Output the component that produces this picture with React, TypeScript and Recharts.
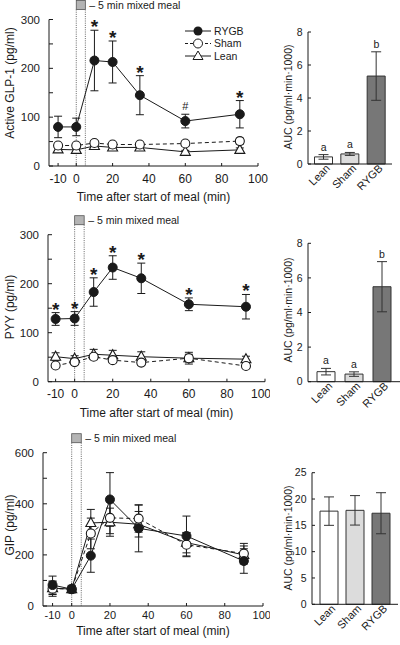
import React from "react";
import {
  ComposedChart,
  Line,
  Bar,
  Cell,
  XAxis,
  YAxis,
  ErrorBar,
  ReferenceArea,
  Legend,
} from "recharts";

const FONT = '"Liberation Sans", Arial, Helvetica, sans-serif';
const INK = "#1a1a1a";

// sampling times (min)
const times = [-10, 0, 10, 20, 35, 60, 90];
const timeTicks = [-10, 0, 20, 40, 60, 80, 100];

// active GLP-1 (pg/ml)
const glpRygb = [80, 80, 216, 213, 145, 92, 106];
const glpRygbErr = [22, 18, 62, 43, 40, 14, 28];
const glpSham = [42, 42, 47, 44, 44, 46, 51];
const glpShamErr = [4, 4, 5, 4, 4, 5, 6];
const glpLean = [34, 33, 41, 38, 38, 29, 33];
const glpLeanErr = [3, 3, 4, 4, 4, 3, 4];
const glpMarks = ["", "", "*", "*", "*", "#", "*"];
const glpTicks = [0, 50, 100, 150, 200, 250, 300];

// PYY (pg/ml)
const pyyRygb = [128, 129, 183, 233, 211, 158, 153];
const pyyRygbErr = [13, 14, 29, 24, 31, 13, 25];
const pyySham = [33, 40, 51, 44, 39, 48, 32];
const pyyShamErr = [4, 5, 6, 5, 5, 12, 4];
const pyyLean = [51, 47, 56, 54, 51, 48, 46];
const pyyLeanErr = [8, 6, 10, 10, 10, 8, 6];
const pyyMarks = ["*", "*", "*", "*", "*", "*", "*"];
const pyyTicks = [0, 50, 100, 150, 200, 250, 300];

// GIP (pg/ml)
const gipRygb = [82, 66, 197, 417, 304, 274, 176];
const gipRygbErr = [35, 15, 65, 105, 92, 78, 48];
const gipSham = [68, 66, 284, 345, 342, 240, 205];
const gipShamErr = [30, 12, 60, 62, 53, 47, 40];
const gipLean = [70, 66, 325, 328, 320, 248, 200];
const gipLeanErr = [25, 10, 53, 55, 50, 40, 35];
const gipMarks = ["", "", "", "", "", "", ""];
const gipTicks = [0, 100, 200, 300, 400, 500, 600];

// AUC bars (pg/ml·min·1000)
const groups = ["Lean", "Sham", "RYGB"];
const groupFills = ["#ffffff", "#dcdcdc", "#777777"];
const glpAuc = [0.43, 0.61, 5.33];
const glpAucErr = [0.14, 0.09, 1.47];
const glpAucMarks = ["a", "a", "b"];
const pyyAuc = [0.58, 0.44, 5.49];
const pyyAucErr = [0.19, 0.13, 1.45];
const pyyAucMarks = ["a", "a", "b"];
const gipAuc = [17.7, 17.85, 17.3];
const gipAucErr = [2.7, 2.8, 3.9];
const gipAucMarks = ["", "", ""];
const aucTicks8 = [0, 2, 4, 6, 8];
const aucTicks25 = [0, 5, 10, 15, 20, 25];

const legendItems = ["RYGB", "Sham", "Lean"];

function timeRows(
  rygb: number[], rygbErr: number[], sham: number[], shamErr: number[],
  lean: number[], leanErr: number[], marks: string[]
) {
  return times.map((t, i) => ({
    t,
    rygb: rygb[i], rygbErr: rygbErr[i],
    sham: sham[i], shamErr: shamErr[i],
    lean: lean[i], leanErr: leanErr[i],
    mark: marks[i],
    markY: marks[i] ? rygb[i] + rygbErr[i] : null,
  }));
}

function aucRows(v: number[], err: number[], marks: string[]) {
  return groups.map((g, i) => ({
    g, v: v[i], err: err[i], mark: marks[i],
    markY: marks[i] ? v[i] + err[i] : null,
  }));
}

const filledDot = (p: any) =>
  p.cx == null ? <g key={`f${p.index}`} /> :
  <circle key={`f${p.index}`} cx={p.cx} cy={p.cy} r={4.5} fill={INK} stroke={INK} />;

const openDot = (p: any) =>
  p.cx == null ? <g key={`o${p.index}`} /> :
  <circle key={`o${p.index}`} cx={p.cx} cy={p.cy} r={4.5} fill="#fff" stroke={INK} strokeWidth={1.1} />;

const triDot = (p: any) =>
  p.cx == null ? <g key={`t${p.index}`} /> :
  <path key={`t${p.index}`} d={`M${p.cx},${p.cy - 5.5}L${p.cx + 5},${p.cy + 3.5}L${p.cx - 5},${p.cy + 3.5}Z`}
    fill="#fff" stroke={INK} strokeWidth={1.1} />;

const markDot = (p: any) => {
  const m = p.payload && p.payload.mark;
  if (p.cx == null || p.cy == null || !m) return <g key={`m${p.index}`} />;
  if (m === "*")
    return <text key={`m${p.index}`} x={p.cx} y={p.cy + 3} textAnchor="middle" fontSize={19} fontWeight="bold" fill={INK}>*</text>;
  return <text key={`m${p.index}`} x={p.cx} y={p.cy - 4} textAnchor="middle" fontSize={11} fill={INK}>{m}</text>;
};

const letterDot = (p: any) => {
  const m = p.payload && p.payload.mark;
  if (p.cx == null || p.cy == null || !m) return <g key={`l${p.index}`} />;
  return <text key={`l${p.index}`} x={p.cx} y={p.cy - 4} textAnchor="middle" fontSize={10.5} fill={INK}>{m}</text>;
};

const mealShape = (p: any) => {
  const { x, y, width, height } = p;
  return (
    <g>
      <line x1={x} y1={y - 10} x2={x} y2={y + height} stroke="#666" strokeDasharray="1 1.2" />
      <line x1={x + width} y1={y - 10} x2={x + width} y2={y + height} stroke="#666" strokeDasharray="1 1.2" />
      <rect x={x} y={y - 19} width={width} height={9} fill="#b4b4b4" stroke="#555" strokeWidth={0.8} />
      <text x={x + width + 4} y={y - 11} fontSize={10.5} fill={INK}>– 5 min mixed meal</text>
    </g>
  );
};

const renderLegend = () => (
  <svg width={70} height={40}>
    {legendItems.map((name, i) => {
      const cy = 6 + i * 12.5;
      const cx = 15;
      return (
        <g key={name}>
          <line x1={2} y1={cy} x2={28} y2={cy} stroke={INK} strokeDasharray={name === "Sham" ? "3 2" : undefined} />
          {name === "RYGB" && <circle cx={cx} cy={cy} r={4.5} fill={INK} />}
          {name === "Sham" && <circle cx={cx} cy={cy} r={4.5} fill="#fff" stroke={INK} />}
          {name === "Lean" && <path d={`M${cx},${cy - 5}L${cx + 5},${cy + 3.5}L${cx - 5},${cy + 3.5}Z`} fill="#fff" stroke={INK} />}
          <text x={31} y={cy + 3.5} fontSize={10.5} fill={INK}>{name}</text>
        </g>
      );
    })}
  </svg>
);

type TimeProps = {
  rows: any[]; top: number; height: number; marginTop: number; marginRight: number;
  yWidth: number; xAxisH: number; xMin: number; yMax: number; yTicks: number[];
  yLabelEvery: number; yLabel: string; yLabelY: number; titleDy: number; tickGap: number;
  tickFont: number; legend?: boolean;
};

function TimeChart(props: TimeProps) {
  const { rows, top, height, marginTop, marginRight, yWidth, xAxisH, xMin, yMax, yTicks,
    yLabelEvery, yLabel, yLabelY, titleDy, tickGap, tickFont, legend } = props;
  return (
    <div style={{ position: "absolute", left: 0, top }}>
      <ComposedChart width={270} height={height} data={rows}
        margin={{ top: marginTop, right: marginRight, bottom: 0, left: 0 }}>
        <XAxis dataKey="t" type="number" domain={[xMin, 100]} ticks={timeTicks} allowDataOverflow
          height={xAxisH} tickSize={-3} tickMargin={tickGap} stroke={INK}
          tick={{ fontSize: tickFont, fill: INK }}
          label={(lp: any) => {
            const vb = lp.viewBox || {};
            const cx = (vb.x ?? 49) + (vb.width ?? 208) / 2;
            const cy = (vb.y ?? 0) + titleDy;
            return <text x={cx} y={cy} textAnchor="middle" fontSize={12} fill={INK}>Time after start of meal (min)</text>;
          }} />
        <YAxis type="number" domain={[0, yMax]} ticks={yTicks} width={yWidth}
          tickSize={-4} tickMargin={13} stroke={INK} tick={{ fontSize: 11.5, fill: INK }}
          tickFormatter={(v: number) => (v % yLabelEvery === 0 ? String(v) : "")}
          label={() => (
            <text x={10} y={yLabelY} transform={`rotate(-90 10 ${yLabelY})`} textAnchor="middle"
              dominantBaseline="central" fontSize={12} fill={INK}>{yLabel}</text>
          )} />
        <ReferenceArea x1={0} x2={5} shape={mealShape} />
        <Line dataKey="lean" stroke={INK} strokeWidth={1} dot={triDot} activeDot={false} isAnimationActive={false}>
          <ErrorBar dataKey="leanErr" width={4} stroke={INK} strokeWidth={1} direction="y" />
        </Line>
        <Line dataKey="sham" stroke={INK} strokeWidth={1} strokeDasharray="4 3" dot={openDot} activeDot={false} isAnimationActive={false}>
          <ErrorBar dataKey="shamErr" width={4} stroke={INK} strokeWidth={1} direction="y" />
        </Line>
        <Line dataKey="rygb" stroke={INK} strokeWidth={1} dot={filledDot} activeDot={false} isAnimationActive={false}>
          <ErrorBar dataKey="rygbErr" width={4} stroke={INK} strokeWidth={1} direction="y" />
        </Line>
        <Line dataKey="markY" stroke="none" dot={markDot} activeDot={false} isAnimationActive={false} />
        {legend && (
          <Legend layout="horizontal" verticalAlign="middle" align="center" content={renderLegend}
            wrapperStyle={{ left: 183, top: 25, width: 70, height: 40 }} />
        )}
      </ComposedChart>
    </div>
  );
}

type AucProps = {
  rows: any[]; top: number; height: number; marginTop: number; marginRight: number;
  yWidth: number; xAxisH: number; yMax: number; yTicks: number[]; pad: number; labelY: number;
};

const slantTick = (p: any) => {
  const ax = p.x + 7;
  const ay = p.y + 5;
  return (
    <text x={ax} y={ay} transform={`rotate(-45 ${ax} ${ay})`} textAnchor="end" fontSize={11} fill={INK}>
      {p.payload.value}
    </text>
  );
};

function AucChart(props: AucProps) {
  const { rows, top, height, marginTop, marginRight, yWidth, xAxisH, yMax, yTicks, pad, labelY } = props;
  return (
    <div style={{ position: "absolute", left: 260, top }}>
      <ComposedChart width={140} height={height} data={rows}
        margin={{ top: marginTop, right: marginRight, bottom: 0, left: 0 }}>
        <XAxis dataKey="g" type="category" height={xAxisH} padding={{ left: pad, right: pad }}
          tickLine={false} tickSize={0} tickMargin={0} stroke={INK} tick={slantTick} interval={0} />
        <YAxis type="number" domain={[0, yMax]} ticks={yTicks} width={yWidth}
          tickSize={-3} tickMargin={8.5} stroke={INK} tick={{ fontSize: 10.5, fill: INK }}
          label={() => (
            <text x={28} y={labelY} transform={`rotate(-90 28 ${labelY})`} textAnchor="middle"
              dominantBaseline="central" fontSize={10.5} fill={INK}>AUC (pg/ml·min·1000)</text>
          )} />
        <Bar dataKey="v" barSize={18} stroke="#333" strokeWidth={1} isAnimationActive={false}>
          {rows.map((r, i) => <Cell key={r.g} fill={groupFills[i]} />)}
          <ErrorBar dataKey="err" width={5} stroke="#333" strokeWidth={1} direction="y" />
        </Bar>
        <Line dataKey="markY" stroke="none" dot={letterDot} activeDot={false} isAnimationActive={false} />
      </ComposedChart>
    </div>
  );
}

export default function App() {
  return (
    <div style={{ position: "absolute", left: 0, top: 0, width: 400, height: 645, background: "#fff", fontFamily: FONT, overflow: "hidden" }}>
      <TimeChart rows={timeRows(glpRygb, glpRygbErr, glpSham, glpShamErr, glpLean, glpLeanErr, glpMarks)}
        top={0} height={206} marginTop={19.5} marginRight={12} yWidth={49} xAxisH={40} xMin={-15}
        yMax={300} yTicks={glpTicks} yLabelEvery={100} yLabel="Active GLP-1 (pg/ml)" yLabelY={83}
        titleDy={35} tickGap={11} tickFont={12} legend />
      <TimeChart rows={timeRows(pyyRygb, pyyRygbErr, pyySham, pyyShamErr, pyyLean, pyyLeanErr, pyyMarks)}
        top={214} height={208} marginTop={20.7} marginRight={5} yWidth={48} xAxisH={40.3} xMin={-14}
        yMax={300} yTicks={pyyTicks} yLabelEvery={100} yLabel="PYY (pg/ml)" yLabelY={93}
        titleDy={35} tickGap={11} tickFont={12} />
      <TimeChart rows={timeRows(gipRygb, gipRygbErr, gipSham, gipShamErr, gipLean, gipLeanErr, gipMarks)}
        top={433} height={212} marginTop={19.7} marginRight={7} yWidth={43} xAxisH={39} xMin={-15}
        yMax={600} yTicks={gipTicks} yLabelEvery={200} yLabel="GIP (pg/ml)" yLabelY={92}
        titleDy={28.5} tickGap={8} tickFont={11} />
      <AucChart rows={aucRows(glpAuc, glpAucErr, glpAucMarks)} top={0} height={204} marginTop={32}
        marginRight={8} yWidth={48} xAxisH={40} yMax={8} yTicks={aucTicks8} pad={2.5} labelY={97} />
      <AucChart rows={aucRows(pyyAuc, pyyAucErr, pyyAucMarks)} top={214} height={208} marginTop={29.3}
        marginRight={0} yWidth={48} xAxisH={40.3} yMax={8} yTicks={aucTicks8} pad={4} labelY={96} />
      <AucChart rows={aucRows(gipAuc, gipAucErr, gipAucMarks)} top={433} height={212} marginTop={39.7}
        marginRight={2} yWidth={52} xAxisH={40.7} yMax={25} yTicks={aucTicks25} pad={4} labelY={105} />
    </div>
  );
}
